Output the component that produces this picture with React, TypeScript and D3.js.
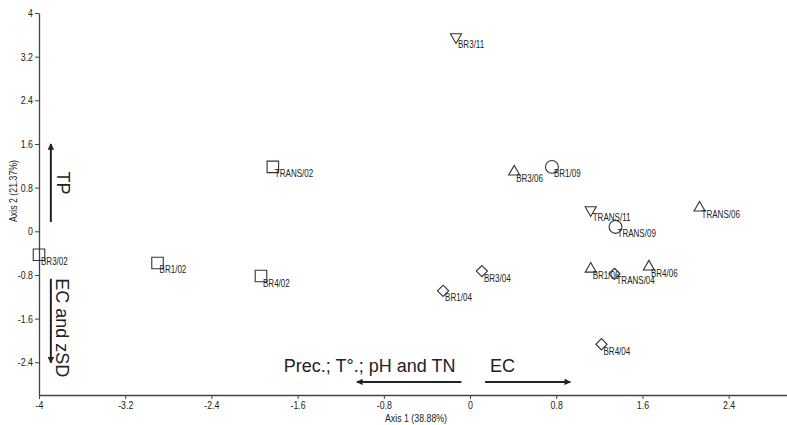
import React, { useEffect, useRef } from 'react';
import * as d3 from 'd3';

// sample scores on the two ordination axes
const sampleLabels = ['BR3/11', 'TRANS/02', 'BR3/02', 'BR1/02', 'BR4/02', 'BR1/04', 'BR3/04', 'BR3/06',
  'BR1/09', 'TRANS/11', 'TRANS/09', 'TRANS/06', 'BR1/06', 'TRANS/04', 'BR4/06', 'BR4/04'];
const axis1Scores = [-0.13, -1.83, -4.0, -2.90, -1.94, -0.25, 0.11, 0.41, 0.76, 1.12, 1.35, 2.13, 1.12, 1.34, 1.66, 1.22];
const axis2Scores = [3.56, 1.18, -0.43, -0.58, -0.82, -1.09, -0.73, 1.09, 1.18, 0.39, 0.08, 0.43, -0.69, -0.78, -0.65, -2.07];
// month -> marker: 02 square, 04 diamond, 06 triangle, 09 circle, 11 down triangle
const sampleMonths = ['11', '02', '02', '02', '02', '04', '04', '06', '09', '11', '09', '06', '06', '04', '06', '04'];

const xTicks = [-4, -3.2, -2.4, -1.6, -0.8, 0, 0.8, 1.6, 2.4];
const yTicks = [-2.4, -1.6, -0.8, 0, 0.8, 1.6, 2.4, 3.2, 4];

// environmental arrows (start, end in axis units)
const arrowNames = ['TP', 'EC and zSD', 'Prec.; T°.; pH and TN', 'EC'];
const arrowFrom = [[-3.89, 0.17], [-3.89, -0.87], [-0.08, -2.76], [0.14, -2.76]];
const arrowTo = [[-3.89, 1.6], [-3.89, -2.41], [-1.05, -2.76], [0.93, -2.76]];

const sans = "'Liberation Sans', Arial, sans-serif";

const App = () => {
  const svgRef = useRef<SVGSVGElement>(null);

  useEffect(() => {
    const svg = d3.select(svgRef.current);
    svg.selectAll('*').remove();
    const width = 787;
    const height = 425;

    const x = d3.scaleLinear().domain([-4, 3]).range([39, 793.3]);
    const y = d3.scaleLinear().domain([-3, 4]).range([395, 13]);
    const fmt = (d: any) => String(d);

    // axes
    const gx = svg.append('g')
      .attr('transform', `translate(0,${y(-3)})`)
      .call(d3.axisBottom(x).tickValues(xTicks).tickFormat(fmt).tickSize(4).tickSizeOuter(0));
    const gy = svg.append('g')
      .attr('transform', `translate(${x(-4)},0)`)
      .call(d3.axisLeft(y).tickValues(yTicks).tickFormat(fmt).tickSize(4).tickSizeOuter(0));
    [gx, gy].forEach(g => {
      g.select('.domain').attr('stroke', '#444').attr('stroke-width', 1.3);
      g.selectAll('.tick line').attr('stroke', '#444');
      g.selectAll('.tick text').attr('fill', '#222').attr('class', 'narrow')
        .style('font-family', sans).style('font-size', '11px');
    });
    gx.selectAll('.tick text').attr('dy', '0.55em').attr('y', 8);
    gy.selectAll('.tick text').attr('x', -6);

    svg.append('text')
      .attr('class', 'narrow')
      .attr('x', 416).attr('y', 422)
      .attr('text-anchor', 'middle')
      .style('font-family', sans).style('font-size', '11px').attr('fill', '#222')
      .text('Axis 1 (38.88%)');
    svg.append('text')
      .attr('class', 'narrow')
      .attr('transform', `translate(17,191) rotate(-90)`)
      .attr('text-anchor', 'middle')
      .style('font-family', sans).style('font-size', '11px').attr('fill', '#222')
      .text('Axis 2 (21.37%)');

    // arrows
    const defs = svg.append('defs');
    defs.append('marker')
      .attr('id', 'head')
      .attr('viewBox', '0 0 10 10')
      .attr('refX', 9).attr('refY', 5)
      .attr('markerWidth', 3.2).attr('markerHeight', 3.2)
      .attr('orient', 'auto')
      .append('path').attr('d', 'M0,0L10,5L0,10Z').attr('fill', '#222');

    svg.append('g').selectAll('line')
      .data(arrowNames)
      .join('line')
      .attr('x1', (d, i) => x(arrowFrom[i][0]))
      .attr('y1', (d, i) => y(arrowFrom[i][1]))
      .attr('x2', (d, i) => x(arrowTo[i][0]))
      .attr('y2', (d, i) => y(arrowTo[i][1]))
      .attr('stroke', '#222')
      .attr('stroke-width', 2)
      .attr('marker-end', 'url(#head)');

    const arrowText = svg.append('g')
      .style('font-family', sans).style('font-size', '18px').attr('fill', '#222');
    // vertical ones, rotated to read downwards
    arrowText.append('text')
      .attr('transform', `translate(${x(arrowFrom[0][0]) + 6},${(y(arrowFrom[0][1]) + y(arrowTo[0][1])) / 2}) rotate(90)`)
      .attr('text-anchor', 'middle')
      .text(arrowNames[0]);
    arrowText.append('text')
      .attr('transform', `translate(${x(arrowFrom[1][0]) + 5},${(y(arrowFrom[1][1]) + y(arrowTo[1][1])) / 2 + 7}) rotate(90)`)
      .attr('text-anchor', 'middle')
      .text(arrowNames[1]);
    arrowText.append('text')
      .attr('x', x(arrowFrom[2][0]) - 6).attr('y', y(arrowFrom[2][1]) - 10)
      .attr('text-anchor', 'end')
      .text(arrowNames[2]);
    arrowText.append('text')
      .attr('x', x(arrowFrom[3][0]) + 5).attr('y', y(arrowFrom[3][1]) - 10)
      .text(arrowNames[3]);

    // sample markers
    const shape: Record<string, [d3.SymbolType, number, number]> = {
      '02': [d3.symbolSquare2, 169, 0],
      '04': [d3.symbolDiamond2, 80, 0],
      '06': [d3.symbolTriangle2, 88, 0],
      '09': [d3.symbolCircle, 130, 0],
      '11': [d3.symbolTriangle2, 88, 180],
    };
    const pts = svg.append('g');
    pts.selectAll('path')
      .data(sampleLabels)
      .join('path')
      .attr('d', (d, i) => d3.symbol(shape[sampleMonths[i]][0], shape[sampleMonths[i]][1])())
      .attr('transform', (d, i) => `translate(${x(axis1Scores[i])},${y(axis2Scores[i])}) rotate(${shape[sampleMonths[i]][2]})`)
      .attr('fill', 'none')
      .attr('stroke', '#333')
      .attr('stroke-width', 1.1);

    pts.selectAll('text')
      .data(sampleLabels)
      .join('text')
      .attr('class', 'label')
      .attr('x', (d, i) => x(axis1Scores[i]) + 2)
      .attr('y', (d, i) => y(axis2Scores[i]) + 10.5)
      .style('font-family', sans).style('font-size', '11px')
      .attr('fill', '#222')
      .text(d => d);

    // the original uses a condensed face: squeeze the glyphs horizontally
    const squeeze = (sel: string, k: number) =>
      svg.selectAll<SVGTextElement, unknown>(sel).each(function () {
        const w = this.getComputedTextLength();
        d3.select(this).attr('textLength', w * k).attr('lengthAdjust', 'spacingAndGlyphs');
      });
    squeeze('text.narrow', 0.8);
    squeeze('text.label', 0.73);

    svg.attr('width', width).attr('height', height);
  }, []);

  return (
    <svg ref={svgRef} width={787} height={425}
      style={{ position: 'absolute', left: 0, top: 0, background: '#fff' }} />
  );
};

export default App;
